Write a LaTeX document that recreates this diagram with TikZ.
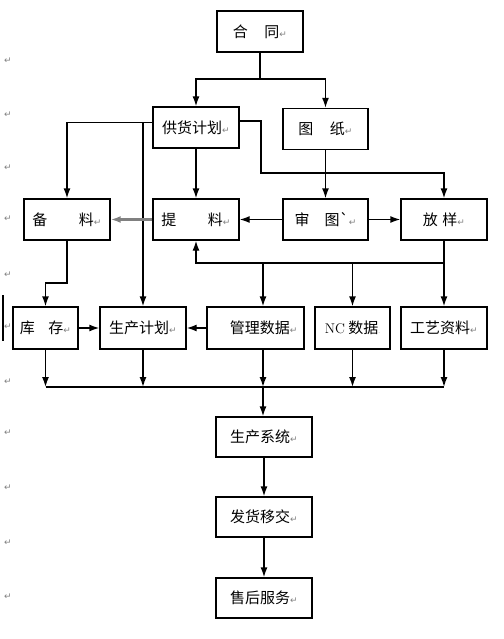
\documentclass[tikz,border=0pt]{standalone}
\usepackage{fontspec}
\usepackage{xcolor}
\usepackage{tikz}
\usetikzlibrary{arrows.meta, positioning, calc}
\newfontfamily\cjk{Noto Sans CJK SC}
\newfontfamily\retfont{DejaVu Sans}
\newcommand\ret{{\retfont\fontsize{9}{9}\selectfont\textcolor{gray}{↵}}}

\begin{document}
\begin{tikzpicture}[x=1pt, y=1pt,
    box/.style={draw, line width=1.4pt, minimum height=41pt, inner sep=2pt,
                font=\cjk\fontsize{15}{17}\selectfont},
    arr/.style={line width=1.4pt, -{Latex[length=10pt,width=7pt]}},
    ln/.style={line width=1.4pt}]
  \useasboundingbox (0,0) rectangle (503,-639);
  % top of the chart
  \node [box, minimum width=86pt] (ht) at (260,-31.5) {合\hspace{1.1em}同\ret};
  \node [box, minimum width=86pt] (gh) at (196,-127.5) {供货计划\ret};
  \node [box, minimum width=85pt] (tz) at (325.5,-129) {图\hspace{1.1em}纸\ret};
  % second row
  \node [box, minimum width=86pt] (bl) at (67,-219.5) {备\hspace{2.1em}料\ret};
  \node [box, minimum width=86pt] (tl) at (196,-219.5) {提\hspace{2.1em}料\ret};
  \node [box, minimum width=85pt] (st) at (325.5,-219.5) {审\hspace{1em}图`\ret};
  \node [box, minimum width=86pt] (fy) at (444,-219.5) {放\hspace{0.3em}样\ret};
  % third row
  \node [box, minimum width=65pt, minimum height=42pt] (kc) at (45.5,-328) {库\hspace{0.9em}存\ret};
  \node [box, minimum width=86pt, minimum height=42pt] (jh) at (143,-328) {生产计划\ret};
  \node [box, minimum width=97pt, minimum height=42pt] (gl) at (255.5,-328) {\hspace{1.1em}管理数据\ret};
  \node [box, minimum width=75pt, minimum height=42pt] (nc) at (352.5,-328)
        {{\rmfamily\fontsize{14}{16}\selectfont NC} 数据{\fontsize{6}{6}\selectfont\textcolor{gray}{.}}};
  \node [box, minimum width=86pt, minimum height=42pt] (gy) at (444,-328) {工艺资料\ret};
  % bottom column
  \node [box, minimum width=96pt, minimum height=40pt] (xt) at (264,-437) {生产系统\ret};
  \node [box, minimum width=96pt, minimum height=40pt] (fh) at (264,-517) {发货移交\ret};
  \node [box, minimum width=96pt, minimum height=40pt] (sh) at (264,-598) {售后服务\ret};

  \coordinate (j1) at (260,-79);
  \coordinate (ghl) at ([yshift=5pt]gh.west);
  \coordinate (ghr) at ([yshift=6.5pt]gh.east);
  \coordinate (gr2) at (261,-173);
  \coordinate (b1) at (45.5,-283);
  \coordinate (bus) at (0,-263);
  \coordinate (bus2) at (0,-387);
  \coordinate (trunk) at (263,0);

  \draw [ln] (ht) -- (j1);
  \draw [arr] (j1) -| (gh);
  \draw [arr] (j1) -| (tz);
  \draw [arr] (ghl) -| (bl);
  \draw [arr] (jh |- ghl) -- (jh);
  \draw [arr] (ghr) -| (gr2) -| (fy);
  \draw [arr] (gh) -- (tl);
  \draw [arr] (tz) -- (st);
  \draw [arr] (st) -- (tl);
  \draw [arr] (st) -- (fy);
  \draw [line width=2.6pt, gray, -{Latex[length=10pt,width=7pt]}] (tl) -- (bl);
  \draw [arr] (bl.south) |- (b1) -- (kc);
  \draw [arr] (fy) -- (gy);
  \draw [arr] (fy |- bus) -| (tl);
  \draw [arr] (trunk |- bus) -- (trunk |- gl.north);
  \draw [arr] (nc |- bus) -- (nc);
  \draw [arr] (kc) -- (jh);
  \draw [arr] (gl) -- (jh);
  % collecting line
  \foreach \n in {kc,jh,nc,gy}
    \draw [arr] (\n) -- (\n |- bus2);
  \draw [arr] (trunk |- gl.south) -- (trunk |- bus2);
  \draw [ln] (kc |- bus2) -- (gy |- bus2);
  \draw [arr] (trunk |- bus2) -- (trunk |- xt.north);
  \draw [arr] (xt) -- (fh);
  \draw [arr] (fh) -- (sh);

  % paragraph marks in the margin
  \foreach \y [count=\i] in {61,115,168,219,275,327,382,433,488,543,597}
    \node [inner sep=0pt] (m\i) at (8,-\y) {\ret};
  \draw [line width=2pt] (3,-295) -- (3,-341);
\end{tikzpicture}
\end{document}
